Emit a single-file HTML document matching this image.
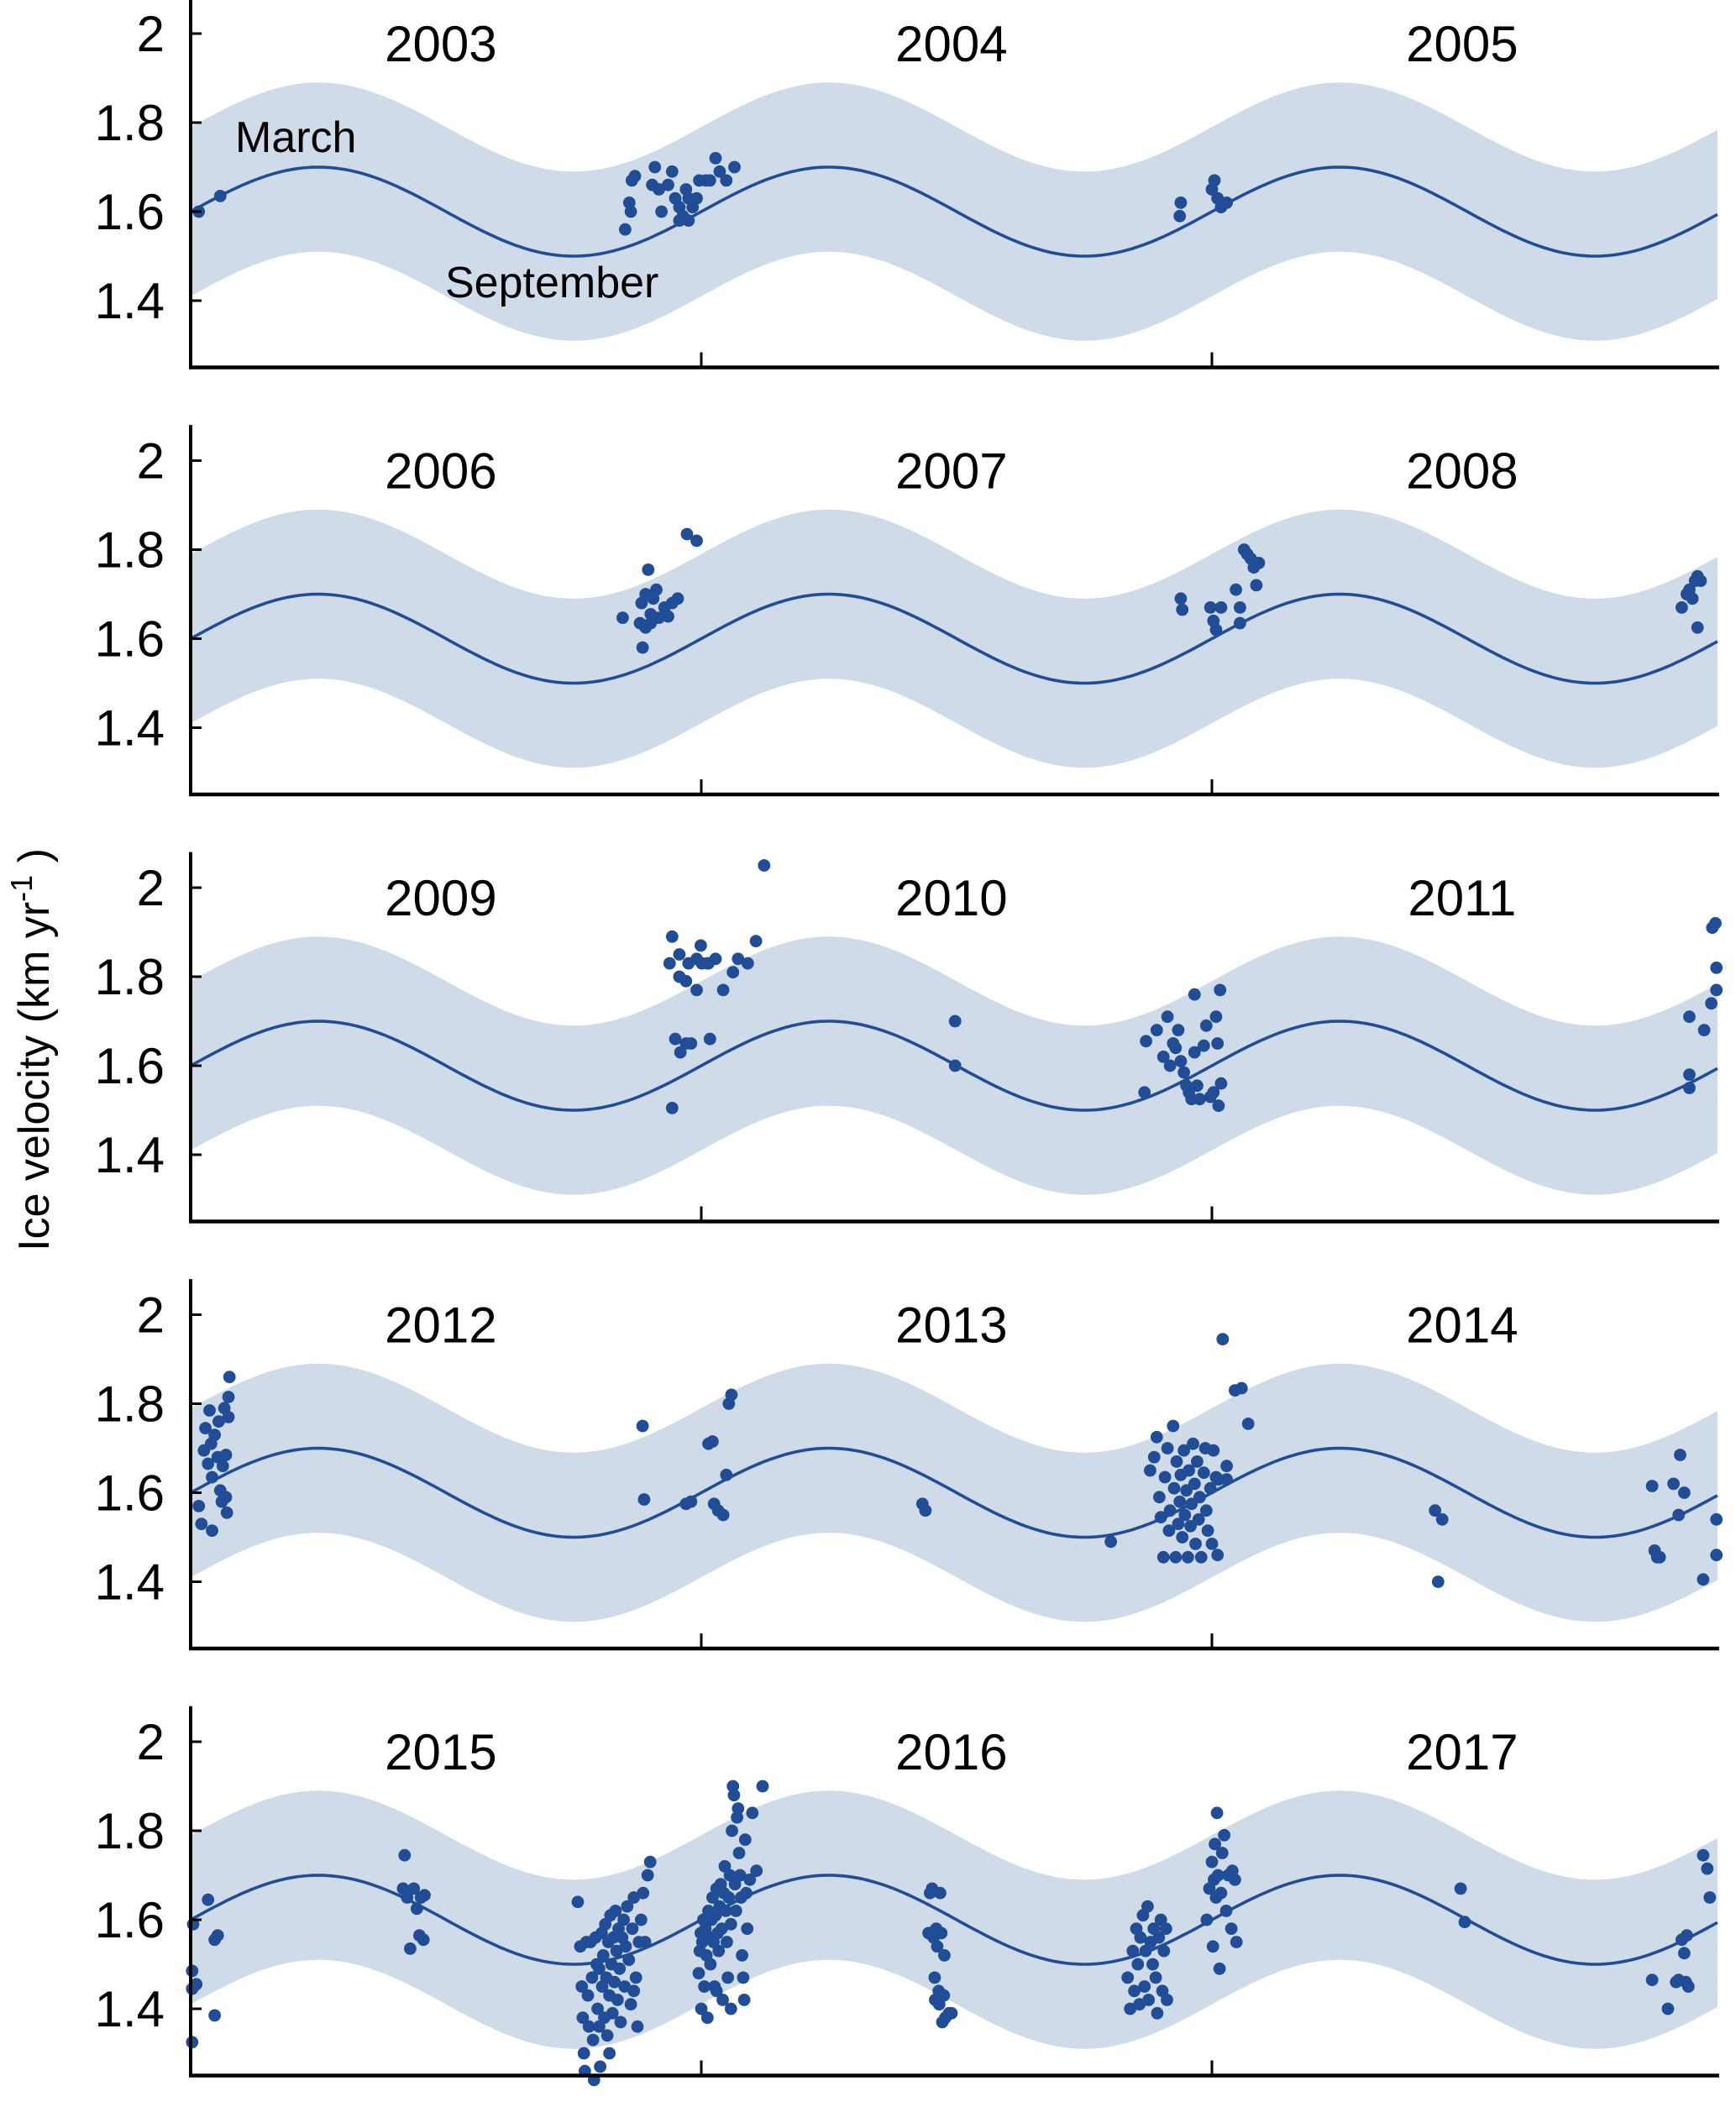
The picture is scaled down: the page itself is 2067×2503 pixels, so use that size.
<!DOCTYPE html>
<html><head><meta charset="utf-8"><style>
html,body{margin:0;padding:0;background:#fff}
svg{display:block;font-family:"Liberation Sans",Arial,sans-serif}
</style></head><body>
<svg id="chart" width="2067" height="2503" viewBox="0 0 2067 2503" xmlns="http://www.w3.org/2000/svg">
<text transform="translate(58,1250) rotate(-90)" text-anchor="middle" font-size="52" fill="#000">Ice velocity (km yr<tspan font-size="36" dy="-20">-1</tspan><tspan dy="20"> )</tspan></text>
</svg>
<script>
const startYears = [2003, 2006, 2009, 2012, 2015];
const yTicks = [2, 1.8, 1.6, 1.4];
const yTickLabels = ["2", "1.8", "1.6", "1.4"];
const modelMean = 1.6, modelAmp = 0.1, bandHalf = 0.19;

const p0t = [0.016,0.058,0.851,0.859,0.864,0.870,0.862,0.909,0.904,0.917,0.935,0.943,0.949,0.957,0.964,0.970,0.975,0.983,0.991,0.996,1.009,1.017,1.028,1.036,1.049,1.065,0.957,0.922,0.975,1.937,1.939,2.000,2.005,2.011,2.018,2.029,2.011];
const p0v = [1.60,1.635,1.56,1.62,1.67,1.68,1.60,1.70,1.66,1.65,1.66,1.69,1.63,1.61,1.59,1.65,1.63,1.61,1.63,1.67,1.67,1.67,1.72,1.69,1.67,1.70,1.58,1.60,1.58,1.59,1.62,1.65,1.67,1.63,1.61,1.62,1.63];
const p1t = [0.846,0.880,0.883,0.891,0.885,0.896,0.901,0.906,0.912,0.917,0.928,0.935,0.943,0.954,0.901,0.972,0.991,0.891,1.939,1.942,1.997,2.003,2.008,2.018,2.047,2.055,2.055,2.063,2.069,2.076,2.082,2.087,2.092,2.920,2.930,2.935,2.941,2.946,2.951,2.951,2.957];
const p1v = [1.647,1.635,1.68,1.70,1.58,1.755,1.655,1.69,1.71,1.647,1.67,1.65,1.68,1.69,1.635,1.835,1.82,1.625,1.69,1.665,1.67,1.64,1.62,1.67,1.71,1.67,1.635,1.80,1.79,1.78,1.76,1.72,1.77,1.67,1.70,1.71,1.69,1.73,1.74,1.625,1.73];
const p2t = [0.938,0.943,0.949,0.959,0.970,0.980,0.943,0.957,0.970,0.975,0.991,1.001,1.012,1.017,1.014,1.028,1.043,1.062,1.072,1.091,1.107,1.123,0.991,0.957,0.999,1.497,1.497,1.868,1.871,1.892,1.905,1.913,1.918,1.924,1.929,1.934,1.939,1.945,1.950,1.955,1.960,1.966,1.971,1.976,1.984,1.989,1.997,2.003,2.008,2.013,2.016,1.966,2.011,2.018,2.935,2.964,2.978,2.980,2.986,2.988,2.988,2.935,2.935];
const p2v = [1.83,1.89,1.66,1.63,1.65,1.65,1.505,1.85,1.79,1.83,1.84,1.83,1.83,1.66,1.83,1.84,1.77,1.81,1.84,1.83,1.88,2.05,1.77,1.80,1.87,1.70,1.60,1.54,1.655,1.68,1.62,1.71,1.60,1.65,1.64,1.68,1.61,1.585,1.555,1.54,1.525,1.63,1.555,1.525,1.645,1.69,1.53,1.54,1.71,1.51,1.77,1.76,1.65,1.56,1.71,1.68,1.74,1.91,1.92,1.82,1.77,1.58,1.55];
const p3t = [0.016,0.021,0.026,0.029,0.034,0.037,0.040,0.042,0.042,0.047,0.053,0.058,0.061,0.063,0.066,0.069,0.071,0.074,0.076,0.069,0.055,0.074,0.885,0.888,0.970,0.980,1.014,1.022,1.025,1.033,1.049,1.054,1.059,1.043,1.433,1.439,1.802,1.879,1.887,1.892,1.897,1.900,1.905,1.908,1.913,1.916,1.918,1.924,1.926,1.929,1.931,1.934,1.937,1.939,1.942,1.945,1.947,1.950,1.953,1.955,1.958,1.960,1.963,1.966,1.968,1.971,1.974,1.976,1.979,1.984,1.987,1.989,1.992,1.997,2.000,2.003,2.008,2.011,2.013,2.021,2.029,2.045,2.058,2.071,2.029,2.437,2.451,2.443,2.862,2.867,2.872,2.877,2.904,2.914,2.917,2.925,2.962,2.988,2.988];
const p3v = [1.57,1.53,1.695,1.745,1.665,1.785,1.71,1.635,1.515,1.73,1.68,1.605,1.58,1.66,1.79,1.685,1.555,1.815,1.86,1.59,1.76,1.77,1.75,1.585,1.575,1.58,1.71,1.715,1.575,1.56,1.64,1.80,1.82,1.55,1.575,1.56,1.49,1.65,1.68,1.725,1.59,1.545,1.455,1.635,1.70,1.515,1.56,1.75,1.61,1.455,1.67,1.53,1.58,1.64,1.50,1.695,1.55,1.605,1.455,1.65,1.525,1.575,1.71,1.62,1.485,1.67,1.54,1.59,1.455,1.645,1.70,1.56,1.515,1.61,1.485,1.695,1.635,1.46,1.63,1.945,1.66,1.83,1.835,1.755,1.63,1.56,1.54,1.40,1.615,1.47,1.455,1.455,1.62,1.55,1.685,1.60,1.405,1.54,1.46];
const p4t = [0.003,0.003,0.003,0.005,0.011,0.034,0.047,0.053,0.047,0.416,0.419,0.424,0.430,0.437,0.443,0.448,0.451,0.456,0.458,
0.758,0.763,0.766,0.768,0.770,0.772,0.775,0.778,0.780,0.783,0.786,0.788,0.790,0.793,0.795,0.797,0.800,0.802,0.805,0.806,0.808,0.810,0.812,0.814,0.816,0.818,0.820,0.822,0.824,0.826,0.828,0.830,0.832,0.834,0.836,0.838,0.840,0.842,0.845,0.848,0.850,0.852,0.855,0.858,0.862,0.865,0.868,0.872,0.875,0.878,0.882,0.886,0.890,0.895,0.900,0.868,0.820,0.800,
0.995,0.997,0.999,1.000,1.002,1.004,1.006,1.008,1.010,1.012,1.014,1.016,1.018,1.020,1.022,1.024,1.026,1.028,1.030,1.032,1.034,1.036,1.038,1.040,1.042,1.044,1.046,1.048,1.050,1.052,1.054,1.056,1.058,1.060,1.062,1.064,1.066,1.068,1.070,1.072,1.074,1.076,1.078,1.080,1.082,1.084,1.086,1.088,1.090,1.095,1.100,1.108,1.120,1.058,1.030,
1.445,1.448,1.450,1.452,1.455,1.457,1.458,1.460,1.462,1.465,1.466,1.468,1.470,1.472,1.475,1.476,1.478,1.485,1.490,
1.835,1.840,1.845,1.848,1.852,1.855,1.858,1.860,1.865,1.868,1.870,1.874,1.876,1.880,1.884,1.886,1.890,1.893,1.896,1.900,1.903,1.906,1.910,1.912,1.990,1.995,2.000,2.002,2.004,2.006,2.008,2.010,2.012,2.015,2.018,2.020,2.024,2.028,2.032,2.038,2.040,2.045,2.048,
2.487,2.495,2.862,2.893,2.909,2.920,2.925,2.930,2.928,2.962,2.970,2.975,2.914,2.933];
const p4v = [1.485,1.445,1.325,1.59,1.455,1.645,1.555,1.565,1.385,1.67,1.745,1.65,1.535,1.67,1.625,1.565,1.65,1.555,1.655,
1.64,1.54,1.45,1.38,1.30,1.26,1.55,1.43,1.36,1.55,1.47,1.33,1.24,1.56,1.50,1.40,1.36,1.27,1.57,1.45,1.52,1.38,1.59,1.47,1.34,1.55,1.43,1.61,1.50,1.39,1.56,1.46,1.62,1.53,1.42,1.58,1.49,1.37,1.56,1.60,1.45,1.54,1.63,1.51,1.41,1.58,1.65,1.47,1.36,1.55,1.60,1.66,1.55,1.70,1.73,1.44,1.30,1.49,
1.48,1.53,1.57,1.40,1.55,1.60,1.45,1.58,1.52,1.38,1.62,1.56,1.50,1.60,1.65,1.55,1.45,1.61,1.67,1.57,1.53,1.63,1.68,1.58,1.42,1.66,1.72,1.62,1.55,1.47,1.65,1.70,1.59,1.80,1.90,1.88,1.68,1.62,1.83,1.85,1.75,1.70,1.65,1.52,1.47,1.42,1.78,1.66,1.58,1.69,1.84,1.71,1.90,1.40,1.44,
1.57,1.66,1.57,1.67,1.56,1.47,1.42,1.58,1.54,1.44,1.41,1.66,1.57,1.37,1.43,1.52,1.38,1.39,1.39,
1.47,1.40,1.53,1.44,1.58,1.50,1.41,1.56,1.61,1.45,1.53,1.63,1.42,1.55,1.50,1.58,1.47,1.39,1.56,1.60,1.44,1.53,1.58,1.42,1.60,1.67,1.73,1.54,1.69,1.77,1.65,1.84,1.70,1.49,1.66,1.75,1.79,1.62,1.70,1.58,1.71,1.69,1.55,
1.67,1.595,1.465,1.40,1.46,1.555,1.525,1.565,1.46,1.745,1.715,1.65,1.465,1.45];
const panelT = [p0t, p1t, p2t, p3t, p4t];
const panelV = [p0v, p1v, p2v, p3v, p4v];

const NS = "http://www.w3.org/2000/svg";
const svg = document.getElementById("chart");
const X0 = 227, YEARPX = 608, TMAX = 2.99;
function xScale(t){ return X0 + t*YEARPX; }
function yScale(v,k){ return 40 + k*508.5 + (2 - v)*530; }
function mk(tag, attrs){ const e = document.createElementNS(NS, tag); for (const a in attrs) e.setAttribute(a, attrs[a]); return e; }
function model(t){ return modelMean + modelAmp*Math.sin(2*Math.PI*t); }

for (let k = 0; k < 5; k++) {
  const g = mk("g", {});
  
  
  svg.appendChild(g);
  let up = [], lo = [], line = [];
  for (let i = 0; i <= 300; i++) {
    const t = TMAX * i / 300;
    up.push(xScale(t).toFixed(1) + "," + yScale(model(t) + bandHalf, k).toFixed(1));
    lo.unshift(xScale(t).toFixed(1) + "," + yScale(model(t) - bandHalf, k).toFixed(1));
    line.push(xScale(t).toFixed(1) + "," + yScale(model(t), k).toFixed(1));
  }
  const band = mk("polygon", {points: up.concat(lo).join(" "), fill: "#cfdbe9"});
  
  
  g.appendChild(band);
  const ml = mk("polyline", {points: line.join(" "), fill: "none", stroke: "#214d97", "stroke-width": 3.6});
  
  
  g.appendChild(ml);
  const ts = panelT[k], vs = panelV[k];
  for (let i = 0; i < ts.length; i++) {
    const c = mk("circle", {cx: xScale(ts[i]).toFixed(1), cy: yScale(vs[i], k).toFixed(1), r: 7.4, fill: "#214d97"});
    
    
    g.appendChild(c);
  }
  const yb = yScale(1.25, k);
  const ya = mk("line", {x1: X0, y1: yScale(2.08, k), x2: X0, y2: yb + 2, stroke: "#000", "stroke-width": 4});
  
  
  g.appendChild(ya);
  const xa = mk("line", {x1: X0 - 2, y1: yb, x2: xScale(TMAX) + 2, y2: yb, stroke: "#000", "stroke-width": 4.5});
  
  
  g.appendChild(xa);
  for (let j = 1; j <= 2; j++) {
    const tk = mk("line", {x1: xScale(j), y1: yb, x2: xScale(j), y2: yb - 18, stroke: "#000", "stroke-width": 3});
    
    
    g.appendChild(tk);
  }
  for (let j = 0; j < yTicks.length; j++) {
    const yy = yScale(yTicks[j], k);
    const tk = mk("line", {x1: X0, y1: yy, x2: X0 + 13, y2: yy, stroke: "#000", "stroke-width": 3});
    
    
    g.appendChild(tk);
    const tl = mk("text", {x: 196, y: yy + 21, "text-anchor": "end", "font-size": 60, fill: "#000"});
    tl.textContent = yTickLabels[j];
    
    
    g.appendChild(tl);
  }
  for (let j = 0; j < 3; j++) {
    const yl = mk("text", {x: xScale(j + 0.49), y: yScale(1.93, k) - 4, "text-anchor": "middle", "font-size": 60, fill: "#000"});
    yl.textContent = String(startYears[k] + j);
    
    
    g.appendChild(yl);
  }
}
const m = mk("text", {x: 280, y: 181, "font-size": 52, fill: "#000"});
m.textContent = "March";


svg.appendChild(m);
const s = mk("text", {x: 530, y: 354, "font-size": 52, fill: "#000"});
s.textContent = "September";


svg.appendChild(s);
</script>
</body></html>
